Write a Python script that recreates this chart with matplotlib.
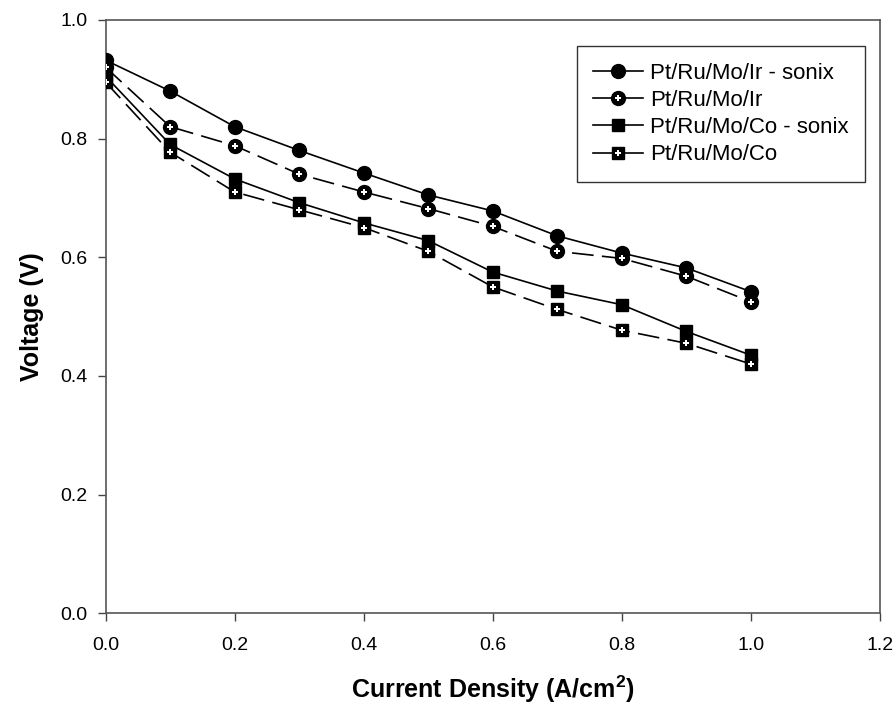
import matplotlib
matplotlib.use("agg")
import matplotlib.pyplot as plt
from matplotlib.lines import Line2D

plt.rcParams["font.family"] = ["Liberation Sans", "DejaVu Sans"]
plt.rcParams["mathtext.default"] = "regular"

current = [0.0, 0.1, 0.2, 0.3, 0.4, 0.5, 0.6, 0.7, 0.8, 0.9, 1.0]
ir_sonix = [0.932, 0.880, 0.820, 0.780, 0.742, 0.705, 0.678, 0.636, 0.607, 0.582, 0.542]
ir_plain = [0.920, 0.820, 0.788, 0.740, 0.710, 0.682, 0.652, 0.610, 0.598, 0.568, 0.525]
co_sonix = [0.905, 0.790, 0.732, 0.692, 0.658, 0.628, 0.575, 0.543, 0.520, 0.475, 0.435]
co_plain = [0.895, 0.777, 0.710, 0.680, 0.650, 0.610, 0.550, 0.512, 0.477, 0.455, 0.420]
labels = ["Pt/Ru/Mo/Ir - sonix", "Pt/Ru/Mo/Ir", "Pt/Ru/Mo/Co - sonix", "Pt/Ru/Mo/Co"]

fig = plt.figure(figsize=(8.95, 7.09), dpi=100)
ax = fig.add_axes([0.118, 0.135, 0.865, 0.837])

dash = (0, (13, 5))
series = [
    (ir_sonix, "o", "-", False),
    (ir_plain, "o", dash, True),
    (co_sonix, "s", "-", False),
    (co_plain, "s", dash, True),
]
handles = []
for (vals, mk, ls, hollow), lab in zip(series, labels):
    ms = 10 if mk == "o" else 9
    ax.plot(current, vals, color="black", linestyle=ls, linewidth=1.2,
            marker=mk, markersize=ms,
            markerfacecolor="black", markeredgecolor="black", zorder=3)
    h1 = Line2D([], [], color="black", linestyle="-", linewidth=1.2, marker=mk,
                markersize=ms, markerfacecolor="black")
    if hollow:
        ax.plot(current, vals, linestyle="none", marker="P", markersize=5,
                markerfacecolor="white", markeredgecolor="white",
                markeredgewidth=0, zorder=4)
        h2 = Line2D([], [], linestyle="none", marker="P", markersize=5,
                    markerfacecolor="white", markeredgewidth=0)
        handles.append((h1, h2))
    else:
        handles.append(h1)

ax.set_xlim(0, 1.2)
ax.set_ylim(0, 1.0)
ax.set_xticks([0.0, 0.2, 0.4, 0.6, 0.8, 1.0, 1.2])
ax.set_yticks([0.0, 0.2, 0.4, 0.6, 0.8, 1.0])
ax.xaxis.set_major_formatter(matplotlib.ticker.FormatStrFormatter("%.1f"))
ax.yaxis.set_major_formatter(matplotlib.ticker.FormatStrFormatter("%.1f"))
ax.tick_params(direction="out", length=6, width=1, labelsize=14, color="#444444")
ax.tick_params(axis="x", pad=11)
ax.tick_params(axis="y", pad=7)
for s in ax.spines.values():
    s.set_linewidth(1.2)
    s.set_color("#555555")

ax.set_xlabel("Current Density (A/cm$^2$)", fontsize=18, fontweight="bold", labelpad=14)
ax.set_ylabel("Voltage (V)", fontsize=18, fontweight="bold", labelpad=12)

leg = ax.legend(handles, labels, loc="upper left", bbox_to_anchor=(0.6085, 0.956),
                borderaxespad=0, fontsize=16, frameon=True, fancybox=False,
                edgecolor="black", handlelength=2.25, borderpad=0.75,
                labelspacing=0.28, handletextpad=0.3)
leg.get_frame().set_linewidth(1)

fig.savefig("out.png", dpi=100)
